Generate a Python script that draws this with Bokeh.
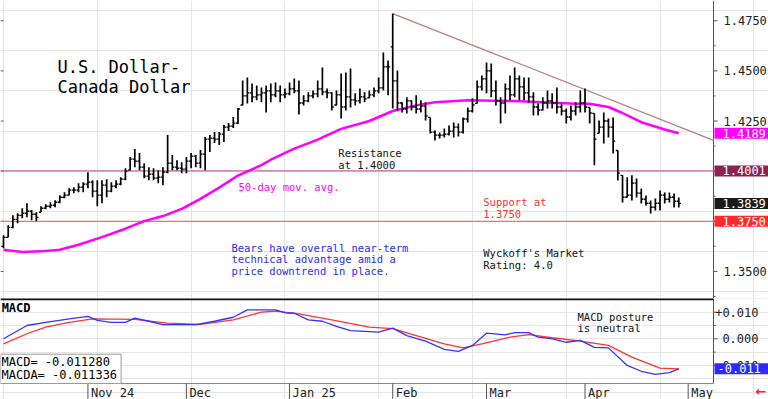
from bokeh.plotting import figure
from bokeh.models import Range1d, Label, ColumnDataSource
from bokeh.layouts import column
from bokeh.transform import dodge
from bokeh.core.properties import value
from bokeh.embed import file_html
from bokeh.resources import INLINE

# ---------------- data (daily bars, Oct 8 2024 .. Apr 29 2025) ----------------
high = [1.3680, 1.3730, 1.3780, 1.3790, 1.3815, 1.3840, 1.3805, 1.3795, 1.3825, 1.3835,
        1.3845, 1.3855, 1.3880, 1.3895, 1.3915, 1.3920, 1.3940, 1.3945, 1.3995, 1.3955,
        1.3955, 1.3955, 1.3960, 1.3945, 1.3955, 1.3970, 1.4015, 1.4070, 1.4110, 1.4090,
        1.4040, 1.4020, 1.4015, 1.4005, 1.4020, 1.4180, 1.4080, 1.4055, 1.4045, 1.4070,
        1.4090, 1.4080, 1.4105, 1.4170, 1.4180, 1.4195, 1.4195, 1.4230, 1.4240, 1.4270,
        1.4315, 1.4452, 1.4467, 1.4437, 1.4427, 1.4417, 1.4427, 1.4437, 1.4442, 1.4427,
        1.4412, 1.4442, 1.4462, 1.4452, 1.4378, 1.4393, 1.4402, 1.4452, 1.4517, 1.4412,
        1.4393, 1.4402, 1.4487, 1.4492, 1.4512, 1.4388, 1.4412, 1.4393, 1.4402, 1.4417,
        1.4467, 1.4592, 1.4552, 1.4786, 1.4502, 1.4343, 1.4368, 1.4353, 1.4378, 1.4353,
        1.4343, 1.4268, 1.4203, 1.4193, 1.4213, 1.4228, 1.4243, 1.4238, 1.4268, 1.4318,
        1.4363, 1.4452, 1.4477, 1.4542, 1.4537, 1.4452, 1.4368, 1.4437, 1.4477, 1.4517,
        1.4477, 1.4467, 1.4467, 1.4393, 1.4338, 1.4368, 1.4402, 1.4388, 1.4417, 1.4338,
        1.4313, 1.4328, 1.4343, 1.4402, 1.4412, 1.4318, 1.4288, 1.4253, 1.4293, 1.4263,
        1.4268, 1.4103, 1.3979, 1.3969, 1.3979, 1.3964, 1.3914, 1.3879, 1.3854, 1.3864,
        1.3904, 1.3894, 1.3894, 1.3889, 1.3869]
low = [1.3615, 1.3670, 1.3715, 1.3740, 1.3765, 1.3770, 1.3755, 1.3750, 1.3795, 1.3810,
       1.3815, 1.3820, 1.3840, 1.3865, 1.3880, 1.3890, 1.3895, 1.3895, 1.3915, 1.3870,
       1.3825, 1.3840, 1.3870, 1.3895, 1.3915, 1.3930, 1.3955, 1.4005, 1.4020, 1.4005,
       1.3965, 1.3955, 1.3955, 1.3940, 1.3930, 1.3990, 1.4005, 1.4005, 1.3990, 1.3990,
       1.4015, 1.4020, 1.4015, 1.4005, 1.4095, 1.4140, 1.4130, 1.4145, 1.4200, 1.4215,
       1.4235, 1.4328, 1.4338, 1.4343, 1.4353, 1.4343, 1.4293, 1.4343, 1.4368, 1.4343,
       1.4363, 1.4378, 1.4388, 1.4283, 1.4328, 1.4343, 1.4363, 1.4368, 1.4378, 1.4363,
       1.4303, 1.4328, 1.4263, 1.4303, 1.4318, 1.4328, 1.4338, 1.4343, 1.4363, 1.4368,
       1.4388, 1.4402, 1.4378, 1.4313, 1.4303, 1.4293, 1.4288, 1.4303, 1.4288, 1.4293,
       1.4253, 1.4188, 1.4153, 1.4163, 1.4168, 1.4178, 1.4168, 1.4173, 1.4188, 1.4243,
       1.4293, 1.4338, 1.4402, 1.4388, 1.4368, 1.4328, 1.4238, 1.4288, 1.4353, 1.4368,
       1.4353, 1.4353, 1.4343, 1.4278, 1.4278, 1.4303, 1.4313, 1.4313, 1.4288, 1.4278,
       1.4238, 1.4253, 1.4278, 1.4293, 1.4293, 1.4238, 1.4029, 1.4188, 1.4138, 1.4168,
       1.4088, 1.3954, 1.3844, 1.3869, 1.3854, 1.3869, 1.3839, 1.3829, 1.3789, 1.3804,
       1.3804, 1.3839, 1.3844, 1.3819, 1.3819]
open_ = [1.3625, 1.3670, 1.3720, 1.3760, 1.3780, 1.3790, 1.3800, 1.3785, 1.3795, 1.3815,
         1.3825, 1.3830, 1.3845, 1.3870, 1.3880, 1.3905, 1.3905, 1.3920, 1.3935, 1.3945,
         1.3900, 1.3880, 1.3930, 1.3900, 1.3925, 1.3935, 1.3960, 1.4005, 1.4060, 1.4050,
         1.4020, 1.3975, 1.3985, 1.3965, 1.3970, 1.3995, 1.4040, 1.4020, 1.4015, 1.4010,
         1.4050, 1.4075, 1.4040, 1.4085, 1.4160, 1.4165, 1.4160, 1.4185, 1.4220, 1.4225,
         1.4240, 1.4330, 1.4375, 1.4390, 1.4370, 1.4380, 1.4390, 1.4400, 1.4380, 1.4400,
         1.4380, 1.4385, 1.4410, 1.4400, 1.4340, 1.4350, 1.4375, 1.4385, 1.4410, 1.4395,
         1.4390, 1.4330, 1.4380, 1.4320, 1.4370, 1.4355, 1.4350, 1.4370, 1.4365, 1.4380,
         1.4400, 1.4415, 1.4520, 1.4620, 1.4450, 1.4340, 1.4310, 1.4350, 1.4320, 1.4310,
         1.4325, 1.4268, 1.4195, 1.4180, 1.4180, 1.4185, 1.4200, 1.4220, 1.4195, 1.4260,
         1.4300, 1.4338, 1.4420, 1.4460, 1.4500, 1.4400, 1.4350, 1.4340, 1.4410, 1.4380,
         1.4460, 1.4420, 1.4390, 1.4370, 1.4320, 1.4305, 1.4340, 1.4350, 1.4340, 1.4320,
         1.4300, 1.4270, 1.4300, 1.4320, 1.4340, 1.4318, 1.4288, 1.4188, 1.4220, 1.4250,
         1.4220, 1.4103, 1.3979, 1.3870, 1.3880, 1.3940, 1.3890, 1.3860, 1.3840, 1.3820,
         1.3840, 1.3880, 1.3860, 1.3870, 1.3850]
close = [1.3670, 1.3720, 1.3760, 1.3780, 1.3790, 1.3800, 1.3785, 1.3770, 1.3815, 1.3825,
         1.3830, 1.3845, 1.3870, 1.3880, 1.3905, 1.3905, 1.3920, 1.3935, 1.3945, 1.3900,
         1.3880, 1.3930, 1.3900, 1.3925, 1.3935, 1.3960, 1.4000, 1.4060, 1.4050, 1.4020,
         1.3975, 1.3985, 1.3965, 1.3970, 1.3995, 1.4040, 1.4020, 1.4015, 1.4010, 1.4050,
         1.4075, 1.4040, 1.4085, 1.4160, 1.4165, 1.4160, 1.4185, 1.4220, 1.4225, 1.4240,
         1.4310, 1.4375, 1.4390, 1.4370, 1.4380, 1.4390, 1.4400, 1.4380, 1.4400, 1.4380,
         1.4385, 1.4410, 1.4400, 1.4340, 1.4350, 1.4375, 1.4385, 1.4410, 1.4395, 1.4390,
         1.4320, 1.4380, 1.4320, 1.4370, 1.4355, 1.4350, 1.4370, 1.4360, 1.4380, 1.4400,
         1.4415, 1.4520, 1.4520, 1.4450, 1.4340, 1.4310, 1.4350, 1.4320, 1.4310, 1.4325,
         1.4275, 1.4195, 1.4180, 1.4180, 1.4185, 1.4200, 1.4220, 1.4195, 1.4260, 1.4300,
         1.4330, 1.4420, 1.4460, 1.4500, 1.4400, 1.4350, 1.4340, 1.4410, 1.4380, 1.4460,
         1.4420, 1.4390, 1.4370, 1.4320, 1.4305, 1.4340, 1.4350, 1.4340, 1.4320, 1.4300,
         1.4270, 1.4300, 1.4320, 1.4340, 1.4320, 1.4290, 1.4160, 1.4220, 1.4250, 1.4220,
         1.4150, 1.3990, 1.3870, 1.3880, 1.3940, 1.3890, 1.3860, 1.3840, 1.3820, 1.3840,
         1.3880, 1.3860, 1.3870, 1.3850, 1.3839]
bar_index = list(range(len(close)))

# 50-day moving average (bar index, value)
ma_idx = [0, 4, 8, 12, 16, 21, 26, 30, 34, 38, 42, 46, 50, 55, 57, 62, 67, 72, 78, 83,
          88, 92, 99, 109, 117, 122, 125, 129, 132, 136, 141, 144]
ma_val = [1.3608, 1.3597, 1.3600, 1.3608, 1.3633, 1.3671, 1.3713, 1.3751, 1.3776, 1.3812,
          1.3862, 1.3918, 1.3978, 1.4030, 1.4057, 1.4112, 1.4157, 1.4211, 1.4250, 1.4300,
          1.4328, 1.4344, 1.4353, 1.4350, 1.4341, 1.4336, 1.4336, 1.4320, 1.4290, 1.4244,
          1.4208, 1.4189]

# MACD and its signal line (bar index, value)
macd_idx = [0, 5, 9, 14, 18, 20, 23, 26, 28, 31, 34, 41, 45, 49, 52, 55, 58, 60, 62, 65,
            68, 71, 74, 80, 83, 86, 90, 94, 97, 100, 103, 107, 109, 112, 114, 117, 120, 123,
            126, 129, 133, 136, 139, 142, 144]
macd_val = [0.0000, 0.0050, 0.0062, 0.0075, 0.0084, 0.0069, 0.0062, 0.0062, 0.0078, 0.0066,
            0.0053, 0.0053, 0.0066, 0.0081, 0.0109, 0.0109, 0.0109, 0.0098, 0.0096, 0.0071,
            0.0066, 0.0047, 0.0031, 0.0025, 0.0040, 0.0012, -0.0009, -0.0040, -0.0047, -0.0025,
            0.0021, 0.0015, 0.0023, 0.0023, 0.0006, 0.0000, -0.0013, -0.0006,
            -0.0032, -0.0034, -0.0100, -0.0122, -0.0134, -0.0127, -0.011280]
sig_idx = [0, 5, 9, 14, 19, 28, 35, 42, 49, 55, 58, 63, 70, 78, 83, 88, 94, 98, 102, 108,
           112, 117, 123, 129, 134, 140, 144]
sig_val = [-0.0019, 0.0019, 0.0044, 0.0062, 0.0075, 0.0073, 0.0059, 0.0054, 0.0071, 0.0100,
           0.0104, 0.0094, 0.0071, 0.0044, 0.0038, 0.0012, -0.0019, -0.0034, -0.0019, 0.0006,
           0.0016, 0.0004, -0.0009, -0.0025, -0.0069, -0.0110, -0.011336]

month_ticks = [18, 39, 61, 83, 103, 124, 146]
month_labels = ["Nov 24", "Dec", "Jan 25", "Feb", "Mar", "Apr", "May"]
price_ticks = [1.3500, 1.3750, 1.4000, 1.4250, 1.4500, 1.4750]
price_labels = ["1.3500", "1.3750", "1.4000", "1.4250", "1.4500", "1.4750"]
price_minor = [1.3375, 1.3625, 1.3875, 1.4125, 1.4375, 1.4625]
macd_ticks = [-0.010, 0.0, 0.010]
macd_labels = ["-0.010", "0.000", "+0.010"]
macd_minor = [-0.005, 0.005]

resistance = 1.4001
support = 1.3750
last_close = 1.3839
ma_last = 1.4189
macd_last = -0.011280
signal_last = -0.011336
trend_idx = [83, 151.4]
trend_val = [1.4786, 1.4153]

# ---------------- layout ----------------
W = 768            # whole canvas width
FRAME_W = 713      # width of the plotting area left of the price axis
PRICE_H = 298
MACD_H = 85        # MACD plotting area
DATE_H = 16        # strip for the month labels
MONO = "DejaVu Sans Mono"
AX = "#555555"

x_lo, x_axis = -0.64, 151.4
x_full = x_lo + (x_axis - x_lo) * W / FRAME_W


def base_fig(h, y0, y1):
    f = figure(width=W, height=h, x_range=Range1d(x_lo, x_full), y_range=Range1d(y0, y1),
               output_backend="svg", toolbar_location=None,
               x_axis_location=None, y_axis_location=None,
               min_border_left=0, min_border_right=0, min_border_top=0, min_border_bottom=0)
    f.outline_line_color = None
    f.background_fill_color = "white"
    f.border_fill_color = "white"
    return f


def right_axis(f, ticks, labels, minor, y0, y1, align="left", offset=10):
    f.segment(x0=x_axis, y0=y0, x1=x_axis, y1=y1, line_color=AX, line_width=1)
    f.ray(x=x_axis, y=ticks, length=4, length_units="screen", angle=0, line_color=AX)
    f.ray(x=x_axis, y=minor, length=2, length_units="screen", angle=0, line_color=AX)
    f.text(x=x_axis, y=ticks, text=labels, x_offset=offset, text_align=align,
           text_baseline="middle", text_font=value(MONO), text_font_size="12px",
           text_color="#222222")


def value_box(f, y, text, color, left=8, right=3):
    f.add_layout(Label(x=x_axis, y=y, x_offset=1, text=text, text_align="left",
                       text_baseline="middle", text_color="white", text_font=MONO,
                       text_font_size="12px", background_fill_color=color,
                       padding=dict(left=left, right=right, top=1, bottom=1)))


def note(f, x, y, text, color, size, bold=False, lh=1.0):
    f.add_layout(Label(x=x, y=y, text=text, text_color=color, text_font=MONO,
                       text_font_size=size, text_baseline="top", text_align="left",
                       text_line_height=lh, text_font_style="bold" if bold else "normal"))


# ---------------- price panel ----------------
p_lo, p_hi = 1.3365, 1.4851
p = base_fig(PRICE_H, p_lo, p_hi)
right_axis(p, price_ticks, price_labels, price_minor, p_lo, p_hi)
p.ray(x=x_lo, y=price_ticks, length=3, length_units="screen", angle=0, line_color=AX)

p.segment(x0=x_lo, y0=resistance, x1=x_axis, y1=resistance, line_color="#c8649a", line_width=1.2)
p.segment(x0=x_lo, y0=support, x1=x_axis, y1=support, line_color="#ff6a6a", line_width=1.2)
p.line(trend_idx, trend_val, line_color="#bb7f86", line_width=1.3)
p.line(ma_idx, ma_val, line_color="#ff00ff", line_width=2.5)

src = ColumnDataSource(dict(x=bar_index, o=open_, h=high, l=low, c=close))
p.segment(x0="x", y0="l", x1="x", y1="h", source=src, line_color="black", line_width=1.7)
p.segment(x0=dodge("x", -0.45), y0="o", x1="x", y1="o", source=src, line_color="black", line_width=1.3)
p.segment(x0="x", y0="c", x1=dodge("x", 0.45), y1="c", source=src, line_color="black", line_width=1.3)

note(p, 11.5, 1.4567, "U.S. Dollar-\nCanada Dollar", "black", "17px")
note(p, 71.4, 1.4118, "Resistance\nat 1.4000", "#111111", "10.5px", lh=0.95)
note(p, 50.1, 1.3949, "50-day mov. avg.", "#ff00ff", "10.5px")
note(p, 102.3, 1.3874, "Support at\n1.3750", "#ff3030", "10.5px", lh=0.95)
note(p, 48.6, 1.3647, "Bears have overall near-term\ntechnical advantage amid a\nprice downtrend in place.",
     "#2b2bff", "10.5px", lh=0.95)
note(p, 102.3, 1.3620, "Wyckoff's Market\nRating: 4.0", "#111111", "10.5px", lh=0.95)

value_box(p, ma_last, f"{ma_last:.4f}", "#ff00ff")
value_box(p, resistance, f"{resistance:.4f}", "#8b2252")
value_box(p, last_close, f"{last_close:.4f}", "#1a1a1a")
value_box(p, support, f"{support:.4f}", "#ff2a2a")

# ---------------- MACD panel (with the month strip below its plotting area) ----------------
m_lo, m_hi = -0.0168, 0.01515
m_bottom = m_lo - (m_hi - m_lo) * DATE_H / MACD_H
m = base_fig(MACD_H + DATE_H, m_bottom, m_hi)
right_axis(m, macd_ticks, macd_labels, macd_minor, m_lo, m_hi, align="right", offset=45)

# month axis: separators and labels below the MACD area
m.segment(x0=x_lo, y0=m_lo, x1=x_axis, y1=m_lo, line_color="#888888", line_width=1.2)
m.segment(x0=month_ticks, y0=m_lo, x1=month_ticks, y1=m_bottom, line_color="#555555", line_width=1)
m.text(x=month_ticks, y=m_lo, text=month_labels, x_offset=3, y_offset=2, text_align="left",
       text_baseline="top", text_font=value(MONO), text_font_size="12px", text_color="#222222")
m.text(x=[x_axis], y=[m_lo], text=["\u2190"], x_offset=42, y_offset=0, text_align="left",
       text_baseline="top", text_font=value("DejaVu Sans"), text_font_size="13px",
       text_font_style="bold", text_color="#ff2020")

m.segment(x0=x_lo, y0=m_hi, x1=x_axis, y1=m_hi, line_color="#111111", line_width=3.5)
m.line(sig_idx, sig_val, line_color="#ff3333", line_width=1.3)
m.line(macd_idx, macd_val, line_color="#3333ff", line_width=1.3)

note(m, -0.4, 0.0142, "MACD", "black", "12px", bold=True)
note(m, 122.4, 0.0106, "MACD posture\nis neutral", "#111111", "10.5px", lh=0.95)
m.add_layout(Label(x=x_lo, y=m_lo, text=f"MACD=  {macd_last:.6f}\nMACDA= {signal_last:.6f}",
                   text_align="left", text_baseline="bottom", text_color="black",
                   text_font=MONO, text_font_size="12px", text_line_height=0.95,
                   background_fill_color="white", border_line_color="#999999",
                   padding=dict(left=1, right=4, top=1, bottom=1)))
value_box(m, macd_last, f"{macd_last:.3f}", "#2b2bff", left=3, right=9)

layout = column(p, m, spacing=0)
open("out.html", "w").write(file_html(layout, INLINE))
